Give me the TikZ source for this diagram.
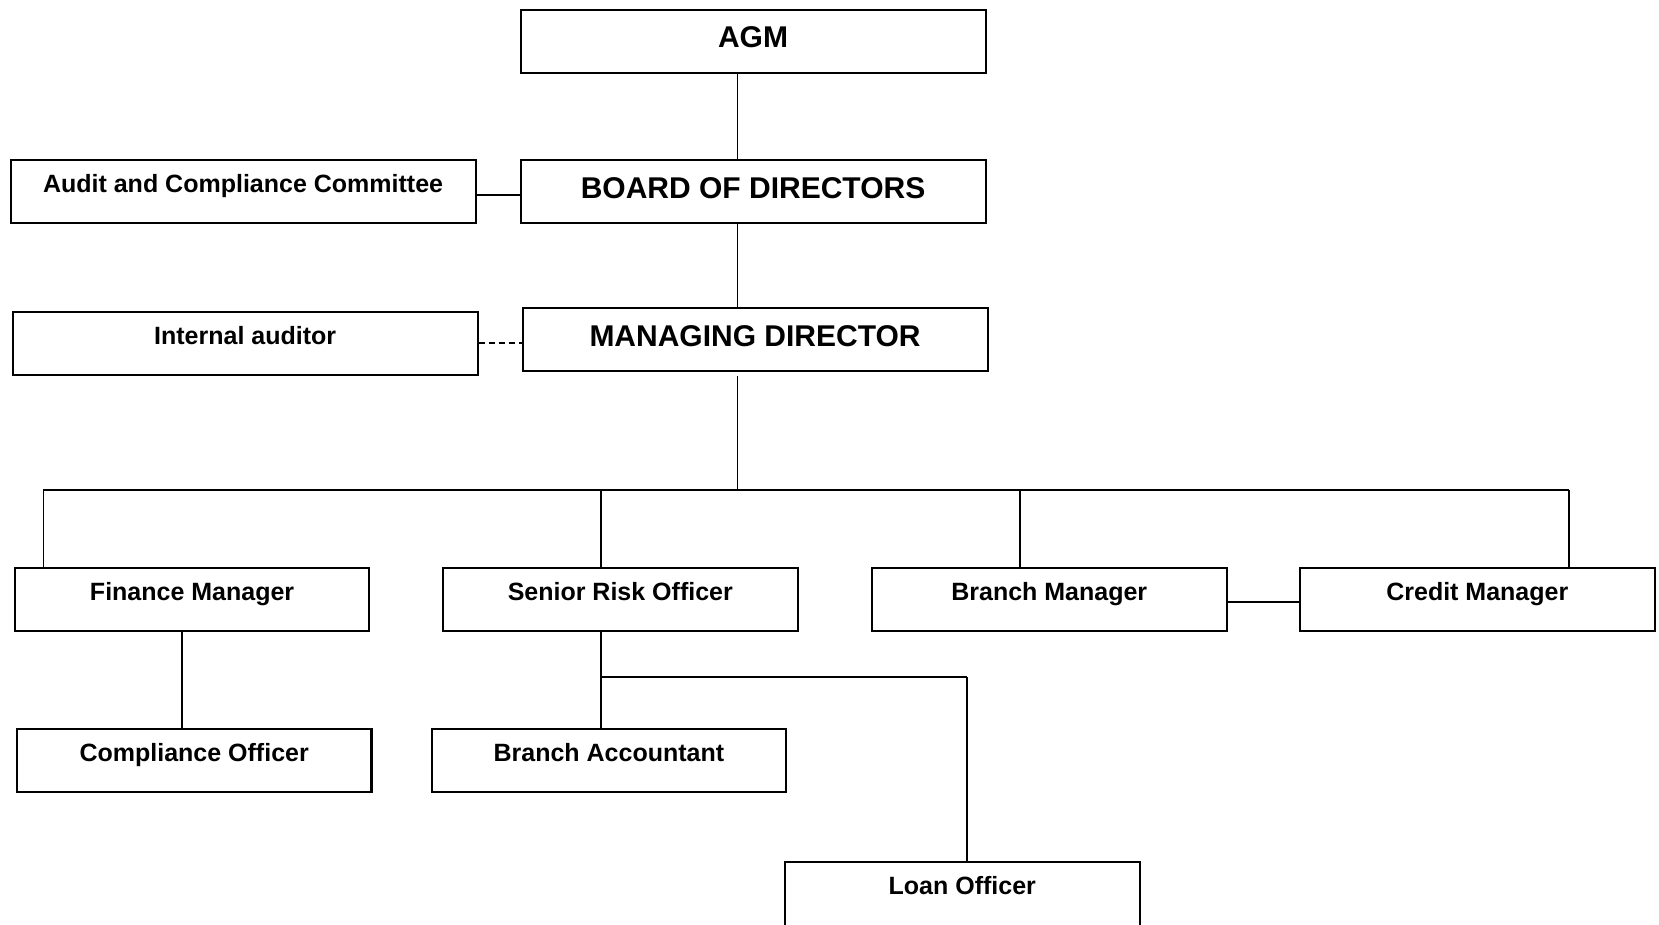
\documentclass[tikz,border=0pt]{standalone}
\usepackage{fontspec}
\setmainfont{Liberation Sans}
\begin{document}
\begin{tikzpicture}[x=1pt,y=-1pt,
  unit/.style={draw, line width=2.1pt, anchor=north west, inner sep=0pt},
  wide/.style={unit, minimum width=465pt},
  narrow/.style={unit, minimum width=354.5pt},
  bigtext/.style={font=\bfseries\fontsize{30}{30}\selectfont, text height=38pt, text depth=25pt},
  smalltext/.style={font=\bfseries\fontsize{25}{25}\selectfont, text height=32pt, text depth=31pt},
  link/.style={line width=1.8pt},
  bus/.style={line width=2.8pt},
  dotted link/.style={line width=1.8pt, dash pattern=on 6pt off 4pt}]
\clip (0,0) rectangle (1659,924);
\fill[white] (0,0) rectangle (1659,924);

% governance
\node[wide, bigtext]   (agm) at (519.5,8.5)  {AGM};
\node[wide, bigtext]   (bod) at (519.5,159)  {BOARD OF DIRECTORS};
\node[wide, smalltext] (acc) at (9.5,159)    {Audit and Compliance Committee};
\node[wide, bigtext]   (md)  at (521.5,307)  {MANAGING DIRECTOR};
\node[wide, smalltext] (ia)  at (11.6,311)   {Internal auditor};

% management
\node[narrow, smalltext] (fm)  at (13.8,567) {Finance Manager};
\node[narrow, smalltext] (sro) at (442,567)  {Senior Risk Officer};
\node[narrow, smalltext] (bm)  at (871,567)  {Branch Manager};
\node[narrow, smalltext] (cm)  at (1299,567) {Credit Manager};

% staff
\node[narrow, smalltext] (co) at (15.9,728) {Compliance Officer};
\node[narrow, smalltext] (ba) at (430.6,728) {Branch Accountant};
\node[narrow, smalltext, text depth=45pt] (lo) at (784,861) {Loan Officer};

% routing points
\coordinate (spine) at (737.5,0);
\coordinate (accy)  at (0,195);
\coordinate (dashy) at (0,343);
\coordinate (busL)  at (43.4,490);
\coordinate (busR)  at (1569,490);
\coordinate (d2)    at (601,490);
\coordinate (d3)    at (1020,490);
\coordinate (bcy)   at (0,602);
\coordinate (fmx)   at (182,0);
\coordinate (j)     at (601,677);
\coordinate (k)     at (967,677);

% connectors
\draw[link] (agm.south -| spine) -- (bod.north -| spine);
\draw[link] (bod.south -| spine) -- (md.north -| spine);
\draw[link] (acc.east |- accy) -- (bod.west |- accy);
\draw[dotted link] (ia.east |- dashy) -- (md.west |- dashy);
\draw[link, shorten <=4pt] (md.south -| spine) -- (busL -| spine);
\draw[bus] (busL) -- (busR);
\draw[link] (busL) -- (busL |- fm.north);
\draw[link] (d2) -- (d2 |- sro.north);
\draw[link] (d3) -- (d3 |- bm.north);
\draw[link] (busR) -- (busR |- cm.north);
\draw[link] (bm.east |- bcy) -- (cm.west |- bcy);
\draw[link] (fm.south -| fmx) -- (co.north -| fmx);
\draw[link] (sro.south -| d2) -- (ba.north -| d2);
\draw[bus] (j) -- (k);
\draw[link] (k) -- (k |- lo.north);
\end{tikzpicture}
\end{document}
